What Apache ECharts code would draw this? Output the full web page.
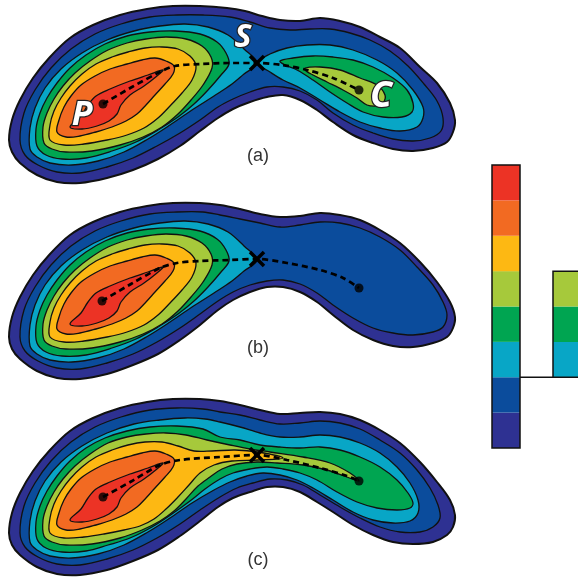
<!DOCTYPE html>
<html><head><meta charset="utf-8">
<script src="https://cdn.jsdelivr.net/npm/echarts@6/dist/echarts.min.js"></script>
<style>html,body{margin:0;padding:0;background:#fff}#c{width:578px;height:577px}</style>
</head><body><div id="c"></div>
<script>
// level colours, lowest (navy, outermost) to highest (red, innermost)
const LEVEL_COLORS = ['#2e3192','#0b4c9c','#08a6c6','#00a551','#a6c93b','#fdb813','#f26a22','#ec3325'];
const PANEL_LABELS = ['(a)','(b)','(c)'];
const COLORBAR_MAIN = [0,1,2,3,4,5,6,7];
const COLORBAR_SUB = [2,3,4];

// ---- shared left-basin contours (panel-local units) ----
const RED = [[163,70],[148,75],[130,81],[110,89],[96,96],[88,105],[81,116],[70,127],[82,129],[97,126],[109,121],[117,114],[121,105],[130,95],[144,86],[157,76]];
const ORANGE = [[57,132],[59,120],[64,107],[71,96],[81,85],[95,76],[110,69],[127,64],[142,60],[155,58],[166,61],[174,66],[173,74],[165,84],[155,95],[146,105],[137,114],[126,121],[112,127],[96,132],[80,136],[66,137]];
const YELLOW_AB = [[50,140],[50,125],[54,111],[61,98],[70,86],[82,74],[96,64],[112,57],[128,52],[145,48],[162,47],[178,49],[190,56],[196,66],[192,80],[182,93],[170,106],[158,118],[144,128],[127,135],[107,140],[84,144],[64,145]];
const LGREEN_AB = [[44,143],[43,127],[47,113],[54,99],[63,86],[75,73],[90,61],[108,50],[127,43],[146,39],[166,37],[186,39],[202,46],[211,57],[212,68],[203,85],[191,100],[178,114],[162,127],[143,137],[120,145],[92,151],[66,152],[52,149]];
const GREEN_AB = [[37,146],[36,129],[40,113],[47,98],[57,83],[70,68],[86,55],[105,44],[127,36],[150,32],[175,31],[200,34],[217,42],[226,53],[229,64],[221,75],[208,90],[194,104],[178,117],[158,130],[136,142],[112,151],[86,158],[62,159],[46,155]];
const CYAN_AB = [[30,149],[30,128],[35,108],[45,88],[61,69],[82,53],[107,40],[134,31],[160,26],[185,24],[208,27],[228,35],[244,49],[257,63],[244,74],[232,84],[214,96],[192,110],[170,125],[148,139],[124,152],[98,161],[72,165],[50,163],[37,157]];

// ---- panel (a) ----
const A_OUTER = [[9,140],[12,120],[20,100],[33,78],[50,57],[70,38],[93,25],[120,15],[147,9],[173,6],[200,6],[227,8],[245,11],[262,16],[280,20],[300,21],[320,18],[340,21],[360,27],[380,37],[400,48],[420,67],[437,83],[450,103],[455,120],[453,132],[447,142],[433,148],[413,151],[393,149],[373,143],[353,135],[333,122],[317,110],[300,100],[283,95],[267,97],[250,102],[233,109],[218,118],[200,131],[180,146],[158,159],[133,170],[107,178],[80,183],[57,182],[37,175],[20,163],[12,152]];
const A_BLUE = [[20,140],[24,113],[35,90],[51,68],[71,49],[95,34],[121,24],[150,17],[177,15],[203,15],[230,17],[250,22],[270,28],[290,30],[310,29],[330,29],[350,33],[370,40],[390,51],[408,66],[424,84],[437,101],[443,118],[441,131],[430,138],[413,141],[393,139],[373,133],[353,125],[333,113],[317,100],[300,91],[283,87],[267,87],[250,92],[233,99],[218,107],[200,120],[180,133],[157,146],[133,158],[107,167],[80,173],[57,172],[38,165],[25,155]];
const A_CYAN_R = [[257,63],[270,54],[287,48],[307,45],[330,45],[353,50],[377,60],[397,73],[413,90],[423,107],[423,118],[417,127],[400,131],[380,128],[360,122],[340,112],[320,100],[300,88],[283,80],[270,72]];
const A_GREEN_R = [[280,61],[293,58],[313,56],[333,57],[353,60],[373,67],[393,78],[407,90],[413,103],[412,112],[402,117],[383,117],[363,112],[347,103],[330,92],[313,80],[297,70],[285,65]];
const A_LGREEN_R = [[305,68],[320,67],[340,70],[360,78],[377,85],[385,95],[383,103],[377,106],[367,105],[357,98],[343,90],[327,82],[313,75],[306,71]];
const A_PATH = [[103,104],[132,87],[162,71],[175,66],[200,64],[230,63],[257,63],[282,65],[307,70],[333,78],[359,90]];
const A_DOTS = [[103,104],[359,90]];
const A_SADDLE = [257,63];

// ---- panel (b) ----
const B_OUTER = [[9,140],[12,120],[20,100],[33,78],[50,57],[70,38],[93,25],[120,15],[147,9],[173,6],[200,6],[220,8],[240,12],[260,17],[280,20],[300,19],[320,16],[340,18],[360,23],[380,33],[400,46],[420,65],[437,85],[450,105],[455,120],[453,131],[447,140],[433,146],[413,150],[393,149],[373,143],[353,133],[333,118],[317,105],[300,95],[283,90],[267,90],[250,95],[233,103],[218,113],[200,128],[180,143],[158,157],[133,168],[107,177],[80,182],[57,181],[37,174],[20,162],[12,152]];
const B_BLUE = [[20,140],[24,113],[35,90],[51,68],[71,49],[95,34],[121,24],[150,17],[177,15],[203,15],[220,18],[240,22],[260,26],[280,30],[300,28],[320,25],[340,26],[360,31],[380,40],[400,53],[417,70],[433,88],[443,105],[447,118],[443,130],[433,135],[413,138],[393,136],[373,131],[353,121],[333,108],[317,96],[300,87],[283,83],[267,84],[250,88],[233,95],[218,104],[200,117],[180,131],[157,145],[133,157],[107,166],[80,172],[57,171],[38,164],[25,154]];
const B_PATH = [[102,104],[131,87],[160,71],[177,66],[200,64],[230,63],[257,62],[287,66],[320,73],[343,81],[359,91]];
const B_DOTS = [[102,104],[359,91]];
const B_SADDLE = [257,62];

// ---- panel (c) ----
const C_OUTER = [[9,140],[12,120],[20,100],[33,78],[50,57],[70,38],[93,25],[120,15],[147,9],[173,6],[200,6],[220,8],[240,12],[260,17],[280,21],[300,20],[320,19],[340,21],[360,27],[380,37],[400,50],[420,69],[437,89],[450,107],[455,122],[453,134],[447,142],[433,149],[413,151],[393,149],[373,142],[353,132],[333,119],[317,109],[300,99],[283,94],[267,94],[250,99],[233,105],[218,114],[200,128],[180,143],[158,157],[133,168],[107,177],[80,182],[57,181],[37,174],[20,162],[12,152]];
const C_BLUE = [[20,140],[24,113],[35,90],[51,68],[71,49],[95,34],[121,24],[150,17],[177,15],[203,16],[220,19],[240,22],[260,27],[280,31],[300,30],[320,28],[340,30],[360,36],[380,47],[400,60],[417,77],[430,95],[438,112],[440,125],[433,134],[420,139],[400,139],[380,134],[360,125],[340,114],[320,102],[303,92],[287,87],[270,86],[253,90],[237,95],[220,104],[200,117],[180,131],[157,145],[133,157],[107,166],[80,172],[57,171],[38,164],[25,154]];
const C_CYAN = [[30,149],[30,128],[35,108],[45,88],[61,69],[82,53],[107,40],[134,31],[160,27],[185,25],[205,26],[220,29],[240,34],[260,40],[280,44],[300,44],[320,42],[340,44],[360,50],[380,60],[397,74],[410,90],[418,107],[418,120],[410,128],[393,130],[373,127],[353,119],[333,107],[313,95],[297,87],[280,82],[263,80],[247,83],[230,89],[214,97],[192,110],[170,125],[148,139],[124,152],[98,161],[72,165],[50,163],[37,157]];
const C_GREEN = [[37,146],[36,129],[40,113],[47,98],[57,83],[70,68],[86,55],[105,45],[127,38],[150,34],[177,33],[203,36],[220,44],[240,47],[260,52],[280,54],[300,55],[320,54],[340,57],[360,64],[380,74],[397,87],[408,100],[413,110],[410,115],[397,117],[377,115],[357,109],[337,99],[317,87],[300,80],[283,76],[267,74],[250,76],[233,80],[220,86],[205,96],[190,108],[172,121],[152,134],[130,145],[108,152],[86,158],[62,159],[46,155]];
const C_LGREEN = [[44,143],[43,127],[47,113],[54,99],[63,86],[75,73],[90,61],[108,50],[127,44],[146,41],[166,40],[186,42],[207,47],[230,52],[250,56],[270,59],[303,64],[330,70],[350,80],[359,88],[347,84],[327,77],[303,72],[277,70],[257,69],[237,71],[222,76],[210,84],[198,93],[186,106],[174,118],[160,128],[142,137],[120,145],[92,151],[66,152],[52,149]];
const C_YELLOW = [[50,140],[50,125],[54,111],[61,98],[70,86],[82,74],[96,64],[112,57],[128,52],[145,49],[162,49],[178,53],[194,58],[212,58],[235,57],[258,59],[283,65],[258,67],[232,68],[214,72],[200,80],[189,92],[178,104],[166,116],[154,126],[140,133],[124,137],[104,141],[84,144],[64,145]];
const C_PATH = [[103,104],[132,88],[160,72],[180,67],[220,64],[257,62],[287,67],[320,75],[347,83],[359,88]];
const C_DOTS = [[103,104],[359,88]];
const C_SADDLE = [257,62];

// letters S, P, C (panel a)
const LETTERS = [['S',243,38,32],['P',82,115,34],['C',381,97,36]];
const PANEL_LABEL_POS = [[258,156],[258,348],[258,560]];

const PANELS = [
  {regions:[[0,A_OUTER],[1,A_BLUE],[2,CYAN_AB],[2,A_CYAN_R],[3,GREEN_AB],[3,A_GREEN_R],[4,LGREEN_AB],[4,A_LGREEN_R],[5,YELLOW_AB],[6,ORANGE],[7,RED]], path:A_PATH, dots:A_DOTS, saddle:A_SADDLE},
  {regions:[[0,B_OUTER],[1,B_BLUE],[2,CYAN_AB],[3,GREEN_AB],[4,LGREEN_AB],[5,YELLOW_AB],[6,ORANGE],[7,RED]], path:B_PATH, dots:B_DOTS, saddle:B_SADDLE},
  {regions:[[0,C_OUTER],[1,C_BLUE],[2,C_CYAN],[3,C_GREEN],[4,C_LGREEN],[5,C_YELLOW],[6,ORANGE],[7,RED]], path:C_PATH, dots:C_DOTS, saddle:C_SADDLE}
];
const PANEL_TOPS = [0,197,393];

const chart = echarts.init(document.getElementById('c'), null, {renderer:'canvas'});
const grids = [], xAxes = [], yAxes = [], series = [];
PANELS.forEach((p, gi) => {
  grids.push({left:0, top:PANEL_TOPS[gi], width:578, height:184});
  xAxes.push({type:'value', gridIndex:gi, min:0, max:578, show:false});
  yAxes.push({type:'value', gridIndex:gi, min:0, max:184, inverse:true, show:false});
  series.push({
    type:'custom', xAxisIndex:gi, yAxisIndex:gi, clip:false, silent:true,
    data:p.regions.map((r,i)=>[r[1][0][0], r[1][0][1], i]),
    renderItem:(params, api) => {
      const r = p.regions[params.dataIndex];
      const pts = r[1].map(q => api.coord(q));
      return {type:'polygon', z2:params.dataIndex, shape:{points:pts, smooth:0.35},
        style:{fill:LEVEL_COLORS[r[0]], stroke:'#111', lineWidth: r[0]===0 ? 2 : 1.3}};
    }
  });
  series.push({
    type:'line', xAxisIndex:gi, yAxisIndex:gi, data:p.path, smooth:0.3, symbol:'none', silent:true, z:5,
    lineStyle:{color:'#000', width:2.7, type:[6,4]}
  });
  series.push({
    type:'scatter', xAxisIndex:gi, yAxisIndex:gi, data:p.dots, symbol:'circle', symbolSize:9, silent:true, z:6,
    itemStyle:{color:'#000'}
  });
  series.push({
    type:'custom', xAxisIndex:gi, yAxisIndex:gi, clip:false, silent:true, z:7,
    data:[p.saddle],
    renderItem:(params, api) => {
      const c = api.coord([api.value(0), api.value(1)]);
      const d = 7;
      return {type:'group', children:[
        {type:'line', shape:{x1:c[0]-d, y1:c[1]-d, x2:c[0]+d, y2:c[1]+d}, style:{stroke:'#000', lineWidth:3.5}},
        {type:'line', shape:{x1:c[0]-d, y1:c[1]+d, x2:c[0]+d, y2:c[1]-d}, style:{stroke:'#000', lineWidth:3.5}}
      ]};
    }
  });
  series.push({
    type:'custom', xAxisIndex:gi, yAxisIndex:gi, clip:false, silent:true, z:8,
    data:[[PANEL_LABEL_POS[gi][0], PANEL_LABEL_POS[gi][1]-PANEL_TOPS[gi]]],
    renderItem:(params, api) => {
      const c = api.coord([api.value(0), api.value(1)]);
      return {type:'text', x:c[0], y:c[1], style:{text:PANEL_LABELS[gi], fill:'#333', font:'18px "Liberation Sans", Arial, sans-serif', align:'center', verticalAlign:'middle'}};
    }
  });
});
// letters on panel (a)
series.push({
  type:'custom', xAxisIndex:0, yAxisIndex:0, clip:false, silent:true, z:9,
  data:LETTERS.map(l=>[l[1], l[2]]),
  renderItem:(params, api) => {
    const l = LETTERS[params.dataIndex];
    const c = api.coord([api.value(0), api.value(1)]);
    return {type:'text', x:c[0], y:c[1], style:{text:l[0], fill:'#fff', stroke:'#222', lineWidth:2.5,
      font:'italic bold '+l[3]+'px "Open Sans", "DejaVu Sans", sans-serif', align:'center', verticalAlign:'middle'}};
  }
});
// colour bar
grids.push({left:492, top:165, width:86, height:283});
xAxes.push({type:'value', gridIndex:3, min:0, max:86, show:false});
yAxes.push({type:'value', gridIndex:3, min:0, max:8, show:false});
series.push({
  type:'custom', xAxisIndex:3, yAxisIndex:3, clip:false, silent:true,
  data:COLORBAR_MAIN.map(v=>[0, v]),
  renderItem:(params, api) => {
    const lv = api.value(1);
    const a = api.coord([0, lv+1]), b = api.coord([28, lv]);
    return {type:'rect', shape:{x:a[0], y:a[1], width:b[0]-a[0], height:b[1]-a[1]}, style:{fill:LEVEL_COLORS[lv]}};
  }
});
series.push({
  type:'custom', xAxisIndex:3, yAxisIndex:3, clip:false, silent:true,
  data:COLORBAR_SUB.map(v=>[61, v]),
  renderItem:(params, api) => {
    const lv = api.value(1);
    const a = api.coord([61, lv+1]), b = api.coord([95, lv]);
    return {type:'rect', shape:{x:a[0], y:a[1], width:b[0]-a[0], height:b[1]-a[1]}, style:{fill:LEVEL_COLORS[lv]}};
  }
});
series.push({
  type:'custom', xAxisIndex:3, yAxisIndex:3, clip:false, silent:true, z:3,
  data:[[0,0]],
  renderItem:(params, api) => {
    const p0 = api.coord([0,0]), p1 = api.coord([28,8]);
    const s0 = api.coord([61,COLORBAR_SUB[0]]), s1 = api.coord([95,COLORBAR_SUB[COLORBAR_SUB.length-1]+1]);
    return {type:'group', children:[
      {type:'rect', shape:{x:p0[0], y:p1[1], width:p1[0]-p0[0], height:p0[1]-p1[1]}, style:{fill:null, stroke:'#111', lineWidth:1.5}},
      {type:'rect', shape:{x:s0[0], y:s1[1], width:s1[0]-s0[0], height:s0[1]-s1[1]}, style:{fill:null, stroke:'#111', lineWidth:1.5}},
      {type:'line', shape:{x1:p1[0], y1:s0[1], x2:s0[0], y2:s0[1]}, style:{stroke:'#111', lineWidth:1.5}}
    ]};
  }
});

chart.setOption({animation:false, grid:grids, xAxis:xAxes, yAxis:yAxes, series:series});
</script></body></html>
